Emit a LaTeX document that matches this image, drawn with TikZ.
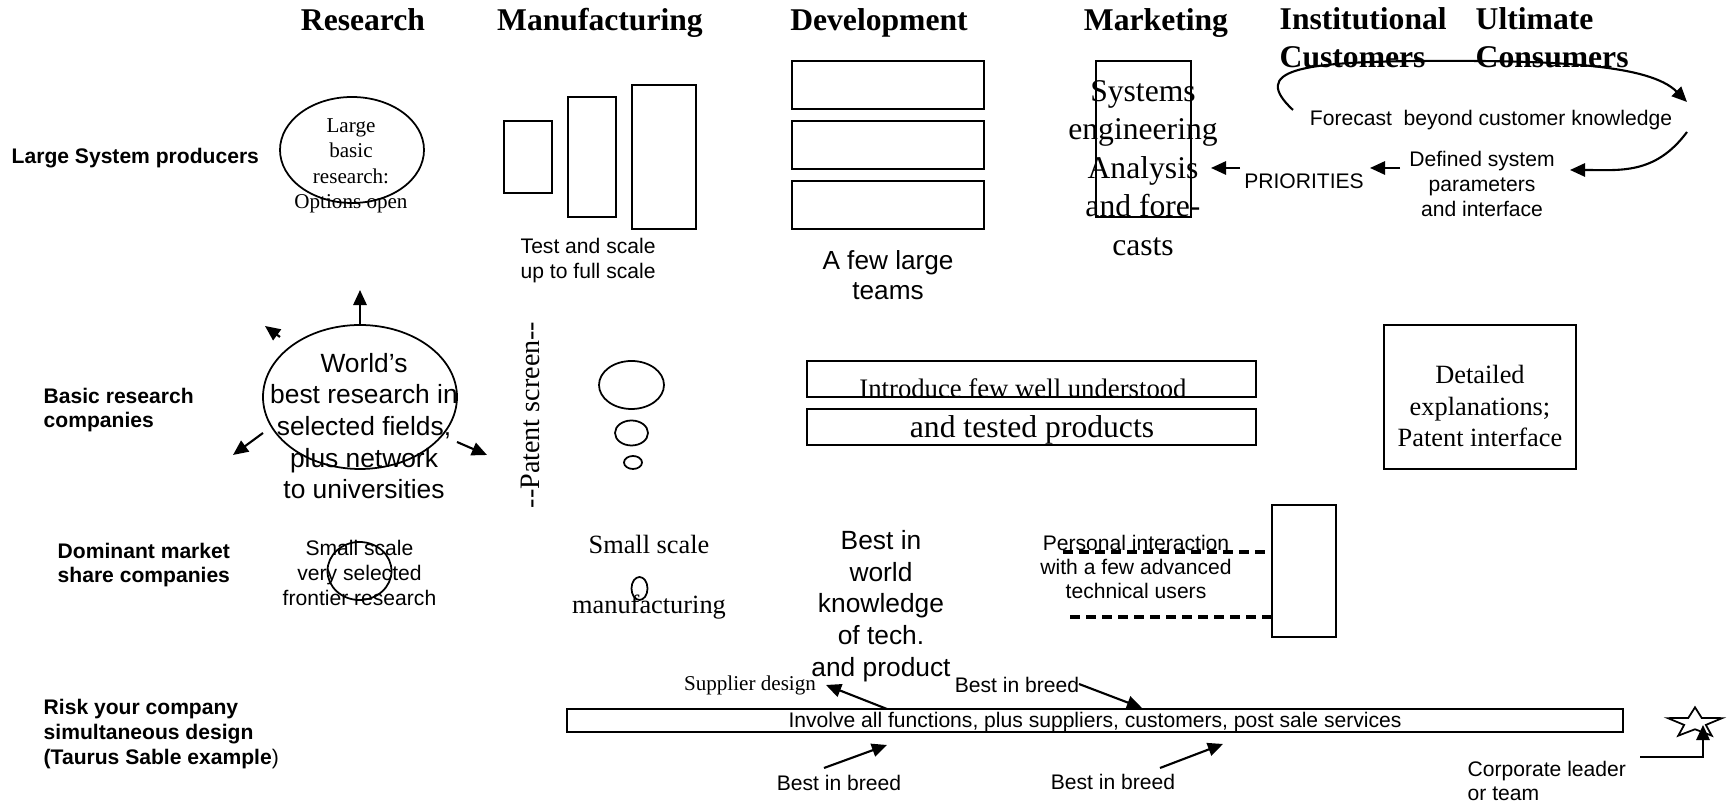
\documentclass[tikz,border=0pt]{standalone}
\usepackage{fontspec}
\setmainfont{Liberation Serif}
\setsansfont{Liberation Sans}
\usetikzlibrary{arrows.meta,shapes.geometric}

\begin{document}
\begin{tikzpicture}[x=0.1mm,y=-0.1mm,
  hd/.style={font=\rmfamily\bfseries\fontsize{9}{10.7}\selectfont,inner sep=0pt},
  rowlab/.style={anchor=west,align=left,font=\sffamily\bfseries\fontsize{6}{7}\selectfont,inner sep=0pt},
  small/.style={align=center,font=\sffamily\fontsize{6}{7.1}\selectfont,inner sep=0pt},
  mid/.style={align=center,font=\sffamily\fontsize{7.5}{9}\selectfont,inner sep=0pt},
  serifs/.style={align=center,font=\rmfamily\fontsize{6}{7.25}\selectfont,inner sep=0pt},
  serifm/.style={align=center,font=\rmfamily\fontsize{7.5}{9.1}\selectfont,inner sep=0pt},
  serifl/.style={align=center,font=\rmfamily\fontsize{9}{10.95}\selectfont,inner sep=0pt},
  box/.style={draw,line width=0.6pt,inner sep=0pt},
  bubble/.style={draw,ellipse,line width=0.5pt,inner sep=0pt},
  arr/.style={-{Triangle[length=4.3pt,width=3.8pt]},line width=0.6pt},
  dashline/.style={line width=0.9pt,dash pattern=on 1mm off 0.6mm}
]
\useasboundingbox (0,0) rectangle (1727,803);

% column heads
\node[hd,anchor=base] (hres) at (363,31) {Research};
\node[hd,anchor=base] (hman) at (600,31) {Manufacturing};
\node[hd,anchor=base] (hdev) at (879,31) {Development};
\node[hd,anchor=base] (hmkt) at (1156,31) {Marketing};
\node[hd,align=left,anchor=west] (hins) at (1279,38) {Institutional\\Customers};
\node[hd,align=left,anchor=west] (hult) at (1475,38) {Ultimate\\Consumers};

% row heads
\node[rowlab] (rlsp) at (11,158) {Large System producers};
\node[rowlab] (rbrc) at (43,410) {Basic research\\companies};
\node[rowlab] (rdms) at (57,565) {Dominant market\\share companies};
\node[rowlab] (rryc) at (43,734) {Risk your company\\simultaneous design\\(Taurus Sable example\textmd{)}};

% large system producers
\node[bubble,minimum width=14.4mm,minimum height=10.6mm] (lbr) at (352,150) {};
\node[serifs] (lbrtxt) at (351,166) {Large\\basic\\research:\\Options open};
\node[box,minimum width=4.8mm,minimum height=7.2mm] (mf1) at (528,157) {};
\node[box,minimum width=4.8mm,minimum height=12mm] (mf2) at (592,157) {};
\node[box,minimum width=6.4mm,minimum height=14.4mm] (mf3) at (664,157) {};
\node[small,anchor=west,align=left] (test) at (520,261) {Test and scale\\up to full scale};
\node[box,minimum width=19.2mm,minimum height=4.8mm] (dv1) at (888,85) {};
\node[box,minimum width=19.2mm,minimum height=4.8mm] (dv2) at (888,145) {};
\node[box,minimum width=19.2mm,minimum height=4.8mm] (dv3) at (888,205) {};
\node[align=center,font=\sffamily\fontsize{7.45}{8.5}\selectfont,inner sep=0pt] (teams) at (888,275) {A few large\\teams};
\node[draw,line width=0.4pt,inner sep=0pt,minimum width=9.5mm,minimum height=15.6mm] (mkt) at (1143.5,139) {};
\node[serifl] (mkttxt) at (1143,168) {Systems\\engineering\\Analysis\\and fore-\\casts};
\node[small] (fcst) at (1491,120) {Forecast~ beyond customer knowledge};
\node[small] (def) at (1482,184) {Defined system\\parameters\\and interface};
\node[small] (prio) at (1304,181) {PRIORITIES};
\coordinate (fc0) at (1293,110);
\coordinate (fc1) at (1687,102);
\coordinate (dc0) at (1687,132);
\coordinate (dc1) at (1570,170);
\coordinate (pa0) at (1400,168);
\coordinate (pa1) at (1370,168);
\coordinate (ma0) at (1240,168);
\coordinate (ma1) at (1211,168);
\draw[arr] (fc0) .. controls (1250,70) and (1300,62) .. (1420,61) .. controls (1560,60) and (1650,65) .. (fc1);
\draw[arr] (dc0) .. controls (1655,175) and (1620,170) .. (dc1);
\draw[arr] (pa0) -- (pa1);
\draw[arr] (ma0) -- (ma1);

% basic research companies
\node[bubble,minimum width=19.4mm,minimum height=14.4mm] (wbr) at (360,397) {};
\node[mid] (wbrtxt) at (364,426) {World’s\\best research in\\selected fields,\\plus network\\to universities};
\coordinate (wu) at (360,290);
\coordinate (wul0) at (280,337);
\coordinate (wul) at (265,326);
\coordinate (wll0) at (263,433);
\coordinate (wll) at (233,455);
\coordinate (wlr0) at (457,442);
\coordinate (wlr) at (487,455);
\draw[arr] (wbr.north) -- (wu);
\draw[arr] (wul0) -- (wul);
\draw[arr] (wll0) -- (wll);
\draw[arr] (wlr0) -- (wlr);
\node[font=\rmfamily\fontsize{8}{9}\selectfont,inner sep=0pt,rotate=90] (pat) at (530,415) {-{}-Patent screen-{}-};
\node[bubble,minimum width=6.5mm,minimum height=4.8mm] (bb1) at (631.5,385) {};
\node[bubble,minimum width=3.3mm,minimum height=2.5mm] (bb2) at (631.5,433) {};
\node[bubble,minimum width=1.8mm,minimum height=1.3mm] (bb3) at (633,462.5) {};
\node[box,minimum width=44.9mm,minimum height=3.6mm] (in1) at (1031.5,379) {};
\node[box,minimum width=44.9mm,minimum height=3.6mm] (in2) at (1031.5,427) {};
\node[font=\rmfamily\fontsize{7.6}{9}\selectfont,inner sep=0pt] (in1txt) at (1023,388) {Introduce few well understood};
\node[font=\rmfamily\fontsize{9}{10}\selectfont,inner sep=0pt] (in2txt) at (1032,430) {and tested products};
\node[box,minimum width=19.2mm,minimum height=14.4mm] (det) at (1480,397) {};
\node[serifm] (dettxt) at (1480,406) {Detailed\\explanations;\\Patent interface};

% dominant market share companies
\node[bubble,minimum width=6.4mm,minimum height=5.8mm] (sml) at (359.5,571) {};
\node[small] (smltxt) at (359.5,573) {Small scale\\very selected\\frontier research};
\node[serifm] (smsc) at (649,544) {Small scale};
\node[bubble,minimum width=1.6mm,minimum height=2.3mm] (mfe) at (639.5,588.5) {};
\node[serifm] (smmf) at (649,607) {manufacturing};
\node[mid] (biw) at (881,606) {Best in\\world\\knowledge\\of tech.\\and product};
\node[small,font=\sffamily\fontsize{6}{6.8}\selectfont] (pers) at (1136,567) {Personal interaction\\with a few advanced\\technical users};
\node[box,minimum width=6.4mm,minimum height=13.2mm] (pbox) at (1304,571) {};
\coordinate (pd1) at (1063,552);
\coordinate (pd2) at (1070,617);
\draw[dashline] (pd1) -- (pd1 -| pbox.west);
\draw[dashline] (pd2) -- (pd2 -| pbox.west);

% risk your company
\node[box,minimum width=105.6mm,minimum height=2.3mm] (inv) at (1095,720.5) {};
\node[small] (invtxt) at (1095,722) {Involve all functions, plus suppliers, customers, post sale services};
\node[serifs] (sup) at (750,685) {Supplier design};
\node[small] (bib1) at (1017,685) {Best in breed};
\node[small] (bib2) at (839,783) {Best in breed};
\node[small] (bib3) at (1113,782) {Best in breed};
\coordinate (sa0) at (887,709);
\coordinate (sa1) at (826,685);
\coordinate (ba0) at (1079,684);
\coordinate (ba1) at (1142,708);
\coordinate (bb0) at (824,768);
\coordinate (bbt) at (887,745);
\coordinate (bc0) at (1160,768);
\coordinate (bct) at (1223,744);
\draw[arr] (sa0) -- (sa1);
\draw[arr] (ba0) -- (ba1);
\draw[arr] (bb0) -- (bbt);
\draw[arr] (bc0) -- (bct);
\begin{scope}[shift={(1695,723)},yscale=0.55,transform shape]
\node[star,star points=5,star point ratio=2.5,draw,line width=0.5pt,minimum size=5.7mm,inner sep=0pt] (star) at (0,0) {};
\end{scope}
\node[small,anchor=west,align=left,font=\sffamily\fontsize{6}{6.8}\selectfont] (corp) at (1467,781) {Corporate leader\\or team};
\coordinate (cl0) at (1640,757);
\coordinate (cl1) at (1703,725);
\draw[arr] (cl0) -| (cl1);
\end{tikzpicture}
\end{document}
